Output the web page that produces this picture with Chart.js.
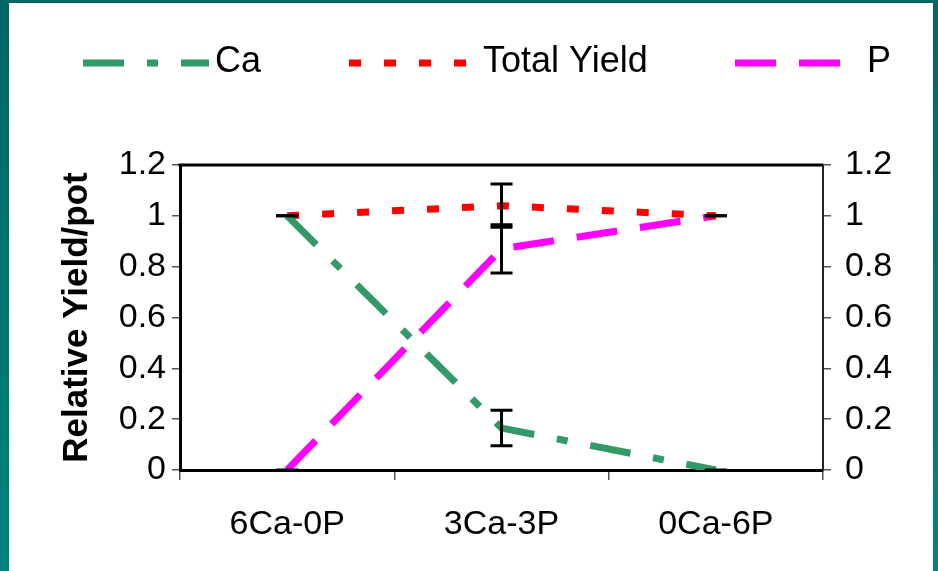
<!DOCTYPE html>
<html>
<head>
<meta charset="utf-8">
<title>Relative Yield</title>
<script src="https://cdn.jsdelivr.net/npm/chart.js@4"></script>
<style>
  html, body { margin: 0; padding: 0; }
  body {
    width: 938px; height: 571px; overflow: hidden; position: relative;
    background: linear-gradient(#006763, #00837f);
  }
  #panel { position: absolute; left: 9px; top: 3px; width: 924px; height: 568px; background: #fff; }
  #chartBox { position: absolute; left: 0; top: 0; width: 938px; height: 571px; }
</style>
</head>
<body>
<div id="panel"></div>
<div id="chartBox"><canvas id="yieldChart"></canvas></div>
<script>
const categories = ['6Ca-0P', '3Ca-3P', '0Ca-6P'];
const caValues = [1.0, 0.165, 0.0];
const totalYieldValues = [1.0, 1.04, 1.0];
const pValues = [0.0, 0.87, 1.0];
const caErrors = [0, 0.07, 0];
const totalYieldErrors = [0, 0.085, 0];
const pErrors = [0, 0.095, 0];
const yTicks = [0, 0.2, 0.4, 0.6, 0.8, 1, 1.2];

const FONT = '"Liberation Sans", Arial, sans-serif';
Chart.defaults.font.family = FONT;
Chart.defaults.color = '#000';

// where each legend entry sits (line start/end, text x)
const legendSpots = [
    { x1: 83, x2: 209, tx: 215 },
    { x1: 349, x2: 467, tx: 483 },
    { x1: 735, x2: 841, tx: 867 }
];

const lineLegend = {
    id: 'lineLegend',
    afterDraw(chart) {
        const ctx = chart.ctx;
        chart.data.datasets.forEach((ds, i) => {
            const s = legendSpots[i];
            ctx.save();
            ctx.strokeStyle = ds.borderColor;
            ctx.lineWidth = ds.borderWidth;
            ctx.lineCap = 'butt';
            ctx.setLineDash(ds.borderDash);
            ctx.beginPath();
            ctx.moveTo(s.x1, 63);
            ctx.lineTo(s.x2, 63);
            ctx.stroke();
            ctx.setLineDash([]);
            ctx.fillStyle = '#000';
            ctx.font = '36px ' + FONT;
            ctx.textBaseline = 'middle';
            ctx.fillText(ds.label, s.tx, 62);
            ctx.restore();
        });
    }
};

const errorBars = {
    id: 'errorBars',
    afterDatasetsDraw(chart) {
        const ctx = chart.ctx;
        const xs = chart.scales.x;
        const ys = chart.scales.y;
        ctx.save();
        ctx.strokeStyle = '#000';
        ctx.lineWidth = 3;
        chart.data.datasets.forEach(ds => {
            ds.data.forEach((v, i) => {
                const err = ds.errors[i];
                const px = xs.getPixelForValue(i);
                const top = ys.getPixelForValue(v + err);
                const bot = ys.getPixelForValue(v - err);
                ctx.beginPath();
                ctx.moveTo(px, top); ctx.lineTo(px, bot);
                ctx.moveTo(px - 11, top); ctx.lineTo(px + 11, top);
                ctx.moveTo(px - 11, bot); ctx.lineTo(px + 11, bot);
                ctx.stroke();
            });
        });
        ctx.restore();
    }
};

// top edge of the plot box
const plotFrame = {
    id: 'plotFrame',
    afterDraw(chart) {
        const { left, right, top } = chart.chartArea;
        const ctx = chart.ctx;
        ctx.save();
        ctx.strokeStyle = '#000';
        ctx.lineWidth = 3;
        ctx.beginPath();
        ctx.moveTo(left - 1.5, top);
        ctx.lineTo(right, top);
        ctx.stroke();
        ctx.restore();
    }
};

const setTicks = scale => { scale.ticks = yTicks.map(v => ({ value: v })); };
const plainLabel = v => String(v);

new Chart(document.getElementById('yieldChart'), {
    type: 'line',
    data: {
        labels: categories,
        datasets: [
            {
                label: 'Ca',
                data: caValues,
                errors: caErrors,
                borderColor: '#339966',
                borderWidth: 7,
                borderDash: [41, 23, 11, 23],
                borderCapStyle: 'butt',
                pointRadius: 0,
                tension: 0
            },
            {
                label: 'Total Yield',
                data: totalYieldValues,
                errors: totalYieldErrors,
                borderColor: '#ff0000',
                borderWidth: 7,
                borderDash: [12, 23],
                borderCapStyle: 'butt',
                pointRadius: 0,
                tension: 0
            },
            {
                label: 'P',
                data: pValues,
                errors: pErrors,
                borderColor: '#ff00ff',
                borderWidth: 7,
                borderDash: [41, 23],
                borderCapStyle: 'butt',
                pointRadius: 0,
                tension: 0
            }
        ]
    },
    options: {
        responsive: true,
        maintainAspectRatio: false,
        animation: false,
        layout: { padding: { top: 165, left: 0, right: 0, bottom: 0 } },
        plugins: {
            legend: { display: false },
            tooltip: { enabled: false }
        },
        scales: {
            x: {
                offset: true,
                grid: { offset: true, drawOnChartArea: false, tickLength: 10, color: '#555', lineWidth: 1.5 },
                border: { color: '#000', width: 3 },
                ticks: { font: { size: 34 }, padding: 24, maxRotation: 0 },
                afterFit: s => { s.height = 101; }
            },
            y: {
                min: 0, max: 1.2,
                afterBuildTicks: setTicks,
                grid: { drawOnChartArea: false, tickLength: 8, color: '#555', lineWidth: 1.5 },
                border: { color: '#000', width: 3 },
                ticks: { font: { size: 34 }, padding: 6, callback: plainLabel },
                title: {
                    display: true,
                    text: 'Relative Yield/pot',
                    font: { size: 35, weight: 'bold' },
                    padding: { top: 56, bottom: 0 }
                },
                afterFit: s => { s.width = 180; }
            },
            y2: {
                position: 'right',
                min: 0, max: 1.2,
                afterBuildTicks: setTicks,
                grid: { drawOnChartArea: false, tickLength: 8, color: '#555', lineWidth: 1.5 },
                border: { color: '#222', width: 2 },
                ticks: { font: { size: 34 }, padding: 14, callback: plainLabel },
                afterFit: s => { s.width = 115; }
            }
        }
    },
    plugins: [errorBars, plotFrame, lineLegend]
});
</script>
</body>
</html>
